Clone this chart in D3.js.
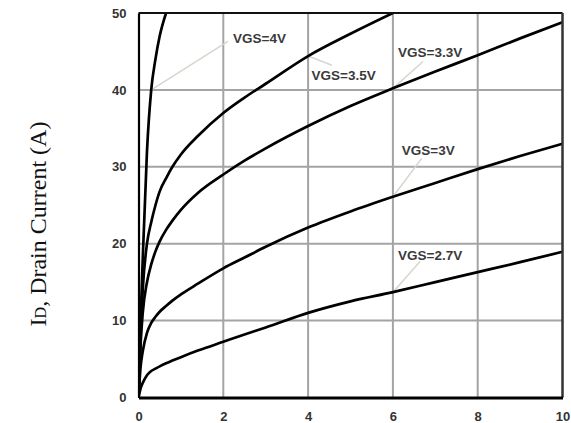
<!DOCTYPE html>
<html>
<head>
<meta charset="utf-8">
<script src="https://cdn.jsdelivr.net/npm/d3@7"></script>
<style>
  html, body { margin: 0; padding: 0; background: #fff; }
  svg { display: block; }
</style>
</head>
<body>
<svg id="chart" width="571" height="423"></svg>
<script>
// Drain-source voltage grid (V) shared by all output curves
const vds = [0, 0.05, 0.1, 0.2, 0.3, 0.4, 0.5, 0.65, 0.8, 1, 1.4, 2, 2.5, 3, 4, 5, 6, 7, 8, 9, 10];

// Drain current (A) per gate voltage; null where the curve has left the 0–50 A range
const id4V  = [0, 10, 18, 32, 40, 44, 47, 50, null, null, null, null, null, null, null, null, null, null, null, null, null];
const id35V = [0, 8, 14, 20, 22.8, 25, 26.8, 28.5, 30, 31.6, 34.0, 37.0, 39.0, 40.8, 44.4, 47.3, 50, null, null, null, null];
const id33V = [0, 7, 11, 15, 17.3, 19, 20.3, 21.8, 23, 24.4, 26.6, 29, 30.8, 32.4, 35.3, 37.9, 40.2, 42.4, 44.5, 46.7, 48.8];
const id3V  = [0, 4.0, 6.0, 8.4, 9.7, 10.5, 11.15, 11.9, 12.6, 13.4, 14.8, 16.8, 18.2, 19.6, 22.1, 24.2, 26.1, 27.9, 29.7, 31.4, 33];
const id27V = [0, 1.2, 1.9, 2.9, 3.45, 3.75, 4.05, 4.45, 4.8, 5.25, 6.1, 7.25, 8.2, 9.1, 11.0, 12.5, 13.7, 15.0, 16.3, 17.6, 18.95];

const seriesNames = ["VGS=4V", "VGS=3.5V", "VGS=3.3V", "VGS=3V", "VGS=2.7V"];
const seriesValues = [id4V, id35V, id33V, id3V, id27V];

// Axis ticks
const xTicks = [0, 2, 4, 6, 8, 10];
const yTicks = [0, 10, 20, 30, 40, 50];

// Label placement per curve: point on the curve (VDS), text origin and leader end in data units
const labelAnchorV = [0.3, 4, 6, 6, 6];
const labelTextV   = [2.23, 4.08, 6.12, 6.21, 6.12];
const labelTextI   = [46.1, 41.3, 44.3, 31.5, 17.9];
const leaderEndV   = [2.11, 4.56, 6.71, 6.68, 6.64];
const leaderEndI   = [46.3, 43.2, 43.7, 31.1, 17.7];

const svg = d3.select("#chart");
const margin = { left: 138.5, top: 13, right: 8.5, bottom: 25.5 };
const W = 571 - margin.left - margin.right;
const H = 423 - margin.top - margin.bottom;

const x = d3.scaleLinear().domain([0, 10]).range([margin.left, margin.left + W]);
const y = d3.scaleLinear().domain([0, 50]).range([margin.top + H, margin.top]);

// Grid
const grid = svg.append("g");
grid.selectAll("line.gx").data(xTicks.slice(1, -1)).join("line")
  .attr("x1", d => x(d)).attr("x2", d => x(d))
  .attr("y1", y(0)).attr("y2", y(50))
  .attr("stroke", "#a4a4a4").attr("stroke-width", 2);
grid.selectAll("line.gy").data(yTicks.slice(1, -1)).join("line")
  .attr("y1", d => y(d)).attr("y2", d => y(d))
  .attr("x1", x(0)).attr("x2", x(10))
  .attr("stroke", "#a4a4a4").attr("stroke-width", 2);

// Leader lines
const valueAt = (arr, v) => arr[vds.indexOf(v)];
const leaders = svg.append("g");
seriesNames.forEach((name, i) => {
  const v = labelAnchorV[i];
  leaders.append("line")
    .attr("x1", x(v)).attr("y1", y(valueAt(seriesValues[i], v)))
    .attr("x2", x(leaderEndV[i])).attr("y2", y(leaderEndI[i]))
    .attr("stroke", "#d6d6cc").attr("stroke-width", 1.5);
});

// Curves
svg.append("clipPath").attr("id", "plotClip")
  .append("rect").attr("x", x(0)).attr("y", y(50)).attr("width", W).attr("height", H);

const line = d3.line()
  .defined(d => d[1] !== null)
  .x(d => x(d[0])).y(d => y(d[1]))
  .curve(d3.curveMonotoneX);

svg.append("g").attr("clip-path", "url(#plotClip)")
  .selectAll("path").data(seriesValues).join("path")
  .attr("d", vals => line(vds.map((v, j) => [v, vals[j]])))
  .attr("fill", "none").attr("stroke", "#000").attr("stroke-width", 2.7)
  .attr("stroke-linejoin", "round");

// Frame
svg.append("line").attr("x1", x(0)).attr("x2", x(10)).attr("y1", y(50)).attr("y2", y(50))
  .attr("stroke", "#111").attr("stroke-width", 2);
svg.append("line").attr("x1", x(10)).attr("x2", x(10)).attr("y1", y(50)).attr("y2", y(0))
  .attr("stroke", "#333").attr("stroke-width", 2.5);

// Axes
const xAxis = svg.append("g").attr("transform", `translate(0,${y(0)})`)
  .call(d3.axisBottom(x).tickValues(xTicks).tickSize(0).tickPadding(14.5).tickFormat(d3.format("d")));
const yAxis = svg.append("g").attr("transform", `translate(${x(0)},0)`)
  .call(d3.axisLeft(y).tickValues(yTicks).tickSize(0).tickPadding(12).tickFormat(d3.format("d")));

[xAxis, yAxis].forEach(a => {
  a.select(".domain").attr("stroke", "#000");
  a.selectAll("text")
    .attr("font-family", "Liberation Sans, Arial, sans-serif")
    .attr("font-weight", "bold").attr("font-size", 13).attr("fill", "#333");
});
xAxis.select(".domain").attr("stroke-width", 3);
yAxis.select(".domain").attr("stroke-width", 2.2);

// Curve labels
svg.append("g").selectAll("text").data(seriesNames).join("text")
  .attr("x", (d, i) => x(labelTextV[i]))
  .attr("y", (d, i) => y(labelTextI[i]))
  .attr("font-family", "Liberation Sans, Arial, sans-serif")
  .attr("font-weight", "bold").attr("font-size", 13.5).attr("fill", "#3a3a3a")
  .text(d => d);

// Y-axis title
const yTitle = svg.append("text")
  .attr("transform", `translate(46,224) rotate(-90)`)
  .attr("text-anchor", "middle")
  .attr("font-family", "Liberation Serif, Times New Roman, serif")
  .attr("font-size", 24).attr("fill", "#111");
yTitle.append("tspan").text("I");
yTitle.append("tspan").attr("font-size", 16).text("D");
yTitle.append("tspan").text(", Drain Current (A)");
</script>
</body>
</html>
